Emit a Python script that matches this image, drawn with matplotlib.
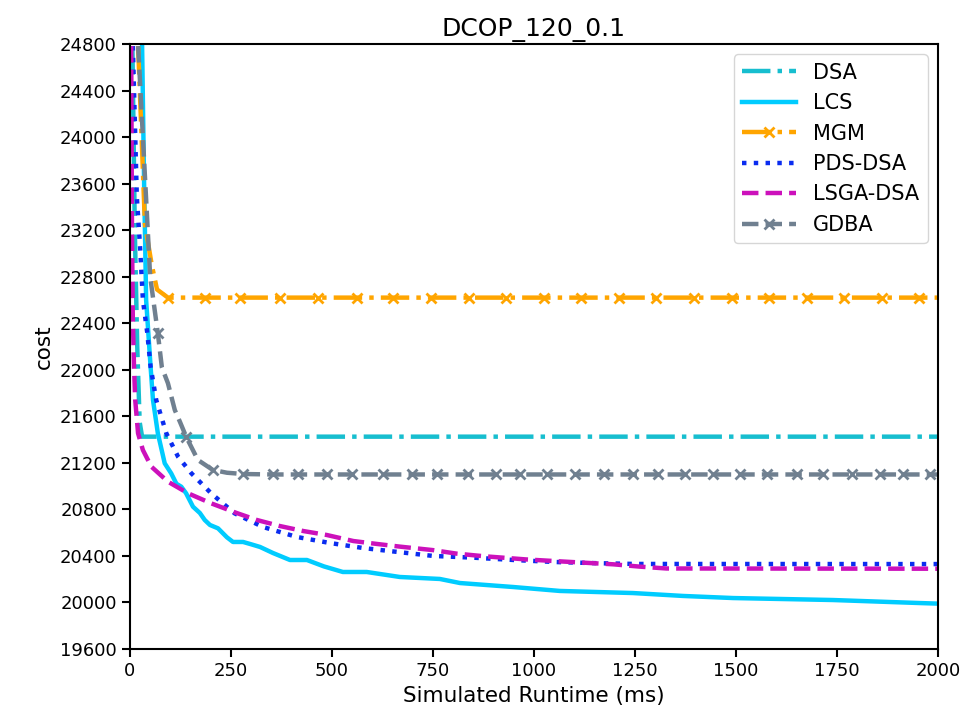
import matplotlib
matplotlib.use("Agg")
import matplotlib.pyplot as plt

# runtime (ms) / cost pairs
dsa_t = [0, 6, 12, 18, 24, 30, 2000]
dsa_cost = [27000, 24800, 23200, 22200, 21550, 21425, 21425]

lcs_t = [0, 25, 30, 35, 40, 51, 57, 69, 86, 102, 115, 127, 139, 156, 173, 185,
         198, 218, 240, 255, 280, 300, 322, 354, 396, 438, 480, 527, 586, 668,
         767, 817, 948, 1064, 1245, 1369, 1493, 1740, 1955, 2000]
lcs_cost = [30000, 25500, 24800, 23600, 22600, 22027, 21740, 21454, 21196, 21110,
            21020, 20995, 20938, 20823, 20769, 20709, 20666, 20637, 20560, 20520,
            20520, 20500, 20477, 20425, 20365, 20365, 20310, 20262, 20262, 20219,
            20202, 20167, 20133, 20099, 20081, 20056, 20038, 20021, 19995, 19990]

mgm_t = [0, 20, 37, 54, 67, 94, 185, 272, 371, 465, 562, 651, 745, 838, 931,
         1024, 1117, 1210, 1303, 1396, 1489, 1582, 1675, 1768, 1861, 1954, 2000]
mgm_cost = [28000, 24800, 23250, 22900, 22690] + [22620] * 22
mgm_marks = [94, 185, 272, 371, 465, 562, 651, 745, 838, 931, 1024, 1117, 1210,
             1303, 1396, 1489, 1582, 1675, 1768, 1861, 1954]

pds_t = [0, 7, 17, 25, 32, 43, 51, 65, 90, 119, 152, 201, 259, 329, 413, 495,
         577, 663, 750, 850, 950, 1050, 1150, 1250, 2000]
pds_cost = [27000, 24800, 23485, 23055, 22600, 22313, 22027, 21740, 21454, 21253,
            21110, 20938, 20766, 20649, 20563, 20511, 20468, 20434, 20400, 20385,
            20365, 20348, 20338, 20331, 20330]

lsga_t = [0, 3, 5, 7, 10, 13, 20, 32, 53, 94, 144, 201, 264, 314, 371, 429, 487,
          553, 611, 668, 750, 808, 874, 980, 1081, 1196, 1262, 1328, 2000]
lsga_cost = [27000, 24800, 23200, 22456, 22027, 21740, 21454, 21310, 21167, 21038,
             20938, 20852, 20769, 20709, 20657, 20614, 20580, 20528, 20503, 20480,
             20450, 20420, 20398, 20370, 20350, 20328, 20308, 20292, 20290]

gdba_t = [0, 20, 35, 50, 69, 79, 94, 111, 124, 139, 168, 205, 240, 280, 354, 416,
          488, 550, 626, 698, 760, 837, 906, 965, 1032, 1101, 1173, 1245, 1307,
          1374, 1443, 1510, 1577, 1651, 1715, 1787, 1856, 1913, 1980, 2000]
gdba_cost = [28000, 24800, 23800, 22800, 22313, 22020, 21884, 21654, 21550, 21425,
             21225, 21139, 21115, 21104] + [21100] * 26
gdba_marks = [69, 139, 205, 280, 354, 416, 488, 550, 626, 698, 760, 837, 906, 965,
              1032, 1101, 1173, 1245, 1307, 1374, 1443, 1510, 1577, 1651, 1715,
              1787, 1856, 1913, 1980]

x_ticks = [0, 250, 500, 750, 1000, 1250, 1500, 1750, 2000]
y_ticks = list(range(19600, 24801, 400))

fig = plt.figure(figsize=(9.75, 7.15), dpi=100)
ax = fig.add_axes([0.1333, 0.0923, 0.8287, 0.8462])

lw = 3.2
ax.plot(dsa_t, dsa_cost, '-.', color='#17becf', lw=lw, label='DSA')
ax.plot(lcs_t, lcs_cost, '-', color='#00ccff', lw=lw, label='LCS')
ax.plot(mgm_t, mgm_cost, '-.', color='orange', lw=lw, label='MGM',
        marker='x', ms=6.5, mew=2, markevery=[mgm_t.index(m) for m in mgm_marks])
ax.plot(pds_t, pds_cost, ':', color='#0a2cf0', lw=lw, label='PDS-DSA')
ax.plot(lsga_t, lsga_cost, '--', color='#cc11bb', lw=lw, label='LSGA-DSA')
ax.plot(gdba_t, gdba_cost, '--', color='slategray', lw=lw, label='GDBA',
        marker='x', ms=6.5, mew=2, markevery=[gdba_t.index(m) for m in gdba_marks])

ax.set_xlim(0, 2000)
ax.set_ylim(19600, 24800)
ax.set_xticks(x_ticks)
ax.set_yticks(y_ticks)
ax.tick_params(labelsize=13, width=1.5, length=6)
for s in ax.spines.values():
    s.set_linewidth(1.5)

ax.set_title('DCOP_120_0.1', fontsize=18)
ax.set_xlabel('Simulated Runtime (ms)', fontsize=15.5)
ax.set_ylabel('cost', fontsize=15.5)
ax.legend(loc='upper right', fontsize=15, handlelength=2.6)

fig.savefig('out.png', dpi=100)
